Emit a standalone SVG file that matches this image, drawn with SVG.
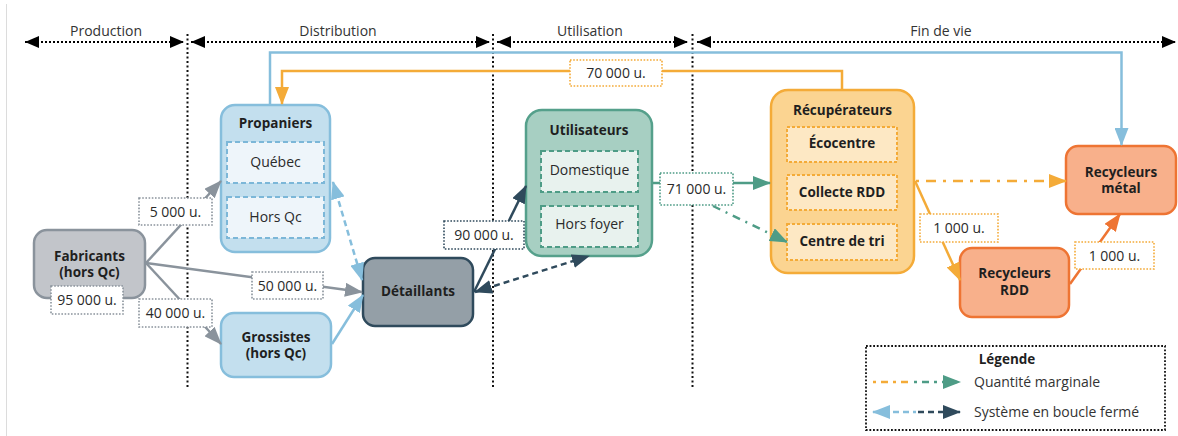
<svg xmlns="http://www.w3.org/2000/svg" width="1178" height="436" viewBox="0 0 1178 436">
<style>
text{font-family:"Open Sans","Liberation Sans",sans-serif;fill:#2a2a2a}
.t{font-size:14px;text-anchor:middle}
.b{font-size:13.5px;font-weight:bold;text-anchor:middle;fill:#1f1f1f}
.hd{font-size:14px;text-anchor:middle;fill:#333}
.lg{font-size:14px;fill:#333}
.hdr{stroke:#000;stroke-width:2.2;stroke-dasharray:2 2;fill:none}
.vl{stroke:#111;stroke-width:2;stroke-dasharray:2 2.5;fill:none}
.lbl{fill:#fff;stroke-width:1.6;stroke-dasharray:1.6 1.6}
.e{fill:none;stroke-width:2.5}
.gray{stroke:#8a939c}
.blue{stroke:#86bedc}
.dark{stroke:#2f4a5c}
.teal{stroke:#4e9c86}
.orng{stroke:#f4ab38}
.red{stroke:#ee7433}
.inb{fill:#eef5fa;stroke:#7cb7d8;stroke-width:2;stroke-dasharray:5 3}
.int{fill:#e8f2ee;stroke:#4e9c86;stroke-width:2;stroke-dasharray:5 3}
.ino{fill:#fde8c4;stroke:#f4ab38;stroke-width:2;stroke-dasharray:3 2}
</style>
<defs>
<marker id="hA" markerUnits="userSpaceOnUse" markerWidth="14" markerHeight="12" viewBox="0 0 14 12" refX="14" refY="6" orient="auto-start-reverse"><path d="M0,0L14,6L0,12z" fill="#000"/></marker>
<marker id="aG" markerUnits="userSpaceOnUse" markerWidth="18" markerHeight="14" viewBox="0 0 18 14" refX="17" refY="7" orient="auto-start-reverse"><path d="M0,0L18,7L0,14z" fill="#8a939c"/></marker>
<marker id="aB" markerUnits="userSpaceOnUse" markerWidth="18" markerHeight="14" viewBox="0 0 18 14" refX="17" refY="7" orient="auto-start-reverse"><path d="M0,0L18,7L0,14z" fill="#86bedc"/></marker>
<marker id="aD" markerUnits="userSpaceOnUse" markerWidth="18" markerHeight="14" viewBox="0 0 18 14" refX="17" refY="7" orient="auto-start-reverse"><path d="M0,0L18,7L0,14z" fill="#2f4a5c"/></marker>
<marker id="aT" markerUnits="userSpaceOnUse" markerWidth="18" markerHeight="14" viewBox="0 0 18 14" refX="17" refY="7" orient="auto-start-reverse"><path d="M0,0L18,7L0,14z" fill="#4e9c86"/></marker>
<marker id="aO" markerUnits="userSpaceOnUse" markerWidth="18" markerHeight="14" viewBox="0 0 18 14" refX="17" refY="7" orient="auto-start-reverse"><path d="M0,0L18,7L0,14z" fill="#f4ab38"/></marker>
<marker id="aR" markerUnits="userSpaceOnUse" markerWidth="18" markerHeight="14" viewBox="0 0 18 14" refX="17" refY="7" orient="auto-start-reverse"><path d="M0,0L18,7L0,14z" fill="#ee7433"/></marker>
</defs>
<rect width="1178" height="436" fill="#fff"/>
<line x1="6.5" y1="4" x2="6.5" y2="436" stroke="#dcdcdc" stroke-width="1"/>

<g id="phases">
<text class="hd" x="106" y="36">Production</text>
<text class="hd" x="338" y="36">Distribution</text>
<text class="hd" x="590" y="36">Utilisation</text>
<text class="hd" x="941" y="36">Fin de vie</text>
<line class="hdr" x1="25" y1="42" x2="184" y2="42" marker-start="url(#hA)" marker-end="url(#hA)"/>
<line class="hdr" x1="191" y1="42" x2="490" y2="42" marker-start="url(#hA)" marker-end="url(#hA)"/>
<line class="hdr" x1="497" y1="42" x2="688" y2="42" marker-start="url(#hA)" marker-end="url(#hA)"/>
<line class="hdr" x1="697" y1="42" x2="1176" y2="42" marker-start="url(#hA)" marker-end="url(#hA)"/>
<line class="vl" x1="187.5" y1="34" x2="187.5" y2="387"/>
<line class="vl" x1="493" y1="34" x2="493" y2="387"/>
<line class="vl" x1="692.5" y1="34" x2="692.5" y2="387"/>
</g>

<g id="fabricants">
<rect x="34" y="230" width="111" height="68" rx="13" fill="#c2c5ca" stroke="#8a939c" stroke-width="2.5"/>
<text class="b" x="89.5" y="261">Fabricants</text>
<text class="b" x="89.5" y="277">(hors Qc)</text>
<rect class="lbl" x="51" y="286" width="72" height="28" stroke="#8a939c"/>
<text class="t" x="87" y="305">95 000 u.</text>
</g>

<g id="propaniers">
<rect x="221" y="105" width="109" height="147" rx="14" fill="#c3dfee" stroke="#86bedc" stroke-width="2.5"/>
<text class="b" x="275.5" y="128">Propaniers</text>
<rect class="inb" x="227" y="142" width="97" height="41"/>
<text class="t" x="275.5" y="167">Québec</text>
<rect class="inb" x="227" y="197" width="97" height="41"/>
<text class="t" x="275.5" y="222">Hors Qc</text>
</g>

<g id="grossistes">
<rect x="221" y="313" width="110" height="64" rx="13" fill="#c3dfee" stroke="#86bedc" stroke-width="2.5"/>
<text class="b" x="276" y="342">Grossistes</text>
<text class="b" x="276" y="358">(hors Qc)</text>
</g>

<g id="detaillants">
<rect x="363" y="258" width="110" height="68" rx="12" fill="#949fa7" stroke="#2f4a5c" stroke-width="2.5"/>
<text class="b" x="418" y="296">Détaillants</text>
</g>

<g id="utilisateurs">
<rect x="526" y="110" width="126" height="146" rx="16" fill="#a7cfc2" stroke="#55a08b" stroke-width="2.5"/>
<text class="b" x="589" y="135">Utilisateurs</text>
<rect class="int" x="541" y="151" width="97" height="41"/>
<text class="t" x="589.5" y="175">Domestique</text>
<rect class="int" x="541" y="206" width="97" height="41"/>
<text class="t" x="589.5" y="229">Hors foyer</text>
</g>

<g id="recuperateurs">
<rect x="771" y="90" width="143" height="183" rx="17" fill="#fbd491" stroke="#f4ab38" stroke-width="2.5"/>
<text class="b" x="842.5" y="115">Récupérateurs</text>
<rect class="ino" x="787" y="127" width="110" height="35"/>
<text class="b" x="842" y="148">Écocentre</text>
<rect class="ino" x="787" y="175" width="110" height="35"/>
<text class="b" x="842" y="197">Collecte RDD</text>
<rect class="ino" x="787" y="224" width="110" height="36"/>
<text class="b" x="842" y="246">Centre de tri</text>
</g>

<g id="recycleurs-rdd">
<rect x="960" y="248" width="109" height="69" rx="12" fill="#f8b08b" stroke="#ee7433" stroke-width="2.5"/>
<text class="b" x="1014.5" y="278">Recycleurs</text>
<text class="b" x="1014.5" y="295">RDD</text>
</g>

<g id="recycleurs-metal">
<rect x="1066" y="146" width="110" height="68" rx="12" fill="#f8b08b" stroke="#ee7433" stroke-width="2.5"/>
<text class="b" x="1121" y="177">Recycleurs</text>
<text class="b" x="1121" y="193">métal</text>
</g>

<g id="connectors">
<path class="e blue" d="M270,104 V52.5 H1121.5 V145" marker-end="url(#aB)"/>
<path class="e orng" d="M842,89 V71 H282 V104" marker-end="url(#aO)"/>
<line class="e gray" x1="146" y1="263" x2="221" y2="181" marker-end="url(#aG)"/>
<line class="e gray" x1="146" y1="263" x2="362" y2="292" marker-end="url(#aG)"/>
<line class="e gray" x1="146" y1="263" x2="221" y2="344" marker-end="url(#aG)"/>
<line class="e blue" x1="332" y1="344" x2="363" y2="295" marker-end="url(#aB)"/>
<line class="e blue" x1="333" y1="182" x2="362" y2="280" stroke-dasharray="6 4" marker-start="url(#aB)" marker-end="url(#aB)"/>
<line class="e dark" x1="474" y1="292" x2="526" y2="186" marker-end="url(#aD)"/>
<line class="e dark" x1="475" y1="292" x2="589" y2="256" stroke-dasharray="6 4" marker-start="url(#aD)" marker-end="url(#aD)"/>
<line class="e teal" x1="653" y1="183" x2="770" y2="183" marker-end="url(#aT)"/>
<line class="e teal" x1="713" y1="206" x2="787" y2="242" stroke-dasharray="8 6 2 6" marker-end="url(#aT)"/>
<line class="e orng" x1="916" y1="181" x2="1066" y2="181" stroke-dasharray="3 7 10 7" marker-end="url(#aO)"/>
<line class="e orng" x1="915" y1="181" x2="960" y2="280" marker-end="url(#aO)"/>
<line class="e red" x1="1070" y1="284" x2="1120" y2="214" marker-end="url(#aR)"/>
<rect class="lbl" x="139" y="198" width="73" height="27" stroke="#8a939c"/>
<text class="t" x="175.5" y="216.5">5 000 u.</text>
<rect class="lbl" x="139" y="299" width="73" height="28" stroke="#8a939c"/>
<text class="t" x="175.5" y="318">40 000 u.</text>
<rect class="lbl" x="252" y="272" width="71" height="27" stroke="#8a939c"/>
<text class="t" x="287.5" y="290.5">50 000 u.</text>
<rect class="lbl" x="444" y="221" width="80" height="28" stroke="#2f4a5c"/>
<text class="t" x="484" y="240">90 000 u.</text>
<rect class="lbl" x="660" y="173" width="73" height="32" stroke="#4e9c86"/>
<text class="t" x="696.5" y="194">71 000 u.</text>
<rect class="lbl" x="570" y="60" width="92" height="26" stroke="#f4ab38"/>
<text class="t" x="616" y="78">70 000 u.</text>
<rect class="lbl" x="920" y="214" width="78" height="28" stroke="#f4ab38"/>
<text class="t" x="959" y="233">1 000 u.</text>
<rect class="lbl" x="1075" y="242" width="79" height="27" stroke="#f4ab38"/>
<text class="t" x="1114.5" y="260.5">1 000 u.</text>
</g>

<g id="legende">
<rect x="866" y="346" width="299" height="84" fill="#fff" stroke="#111" stroke-width="1.8" stroke-dasharray="1.8 1.8"/>
<text class="b" x="1007" y="364">Légende</text>
<line x1="873" y1="382" x2="912" y2="382" stroke="#f4ab38" stroke-width="2.5" stroke-dasharray="3 5 7 5"/>
<line x1="914" y1="382" x2="960" y2="382" stroke="#4e9c86" stroke-width="2.5" stroke-dasharray="3 5 7 5" marker-end="url(#aT)"/>
<text class="lg" x="974" y="387">Quantité marginale</text>
<line x1="873" y1="412" x2="916" y2="412" stroke="#86bedc" stroke-width="2.5" stroke-dasharray="6 4" marker-start="url(#aB)"/>
<line x1="918" y1="412" x2="960" y2="412" stroke="#2f4a5c" stroke-width="2.5" stroke-dasharray="6 4" marker-end="url(#aD)"/>
<text class="lg" x="974" y="417">Système en boucle fermé</text>
</g>
</svg>
